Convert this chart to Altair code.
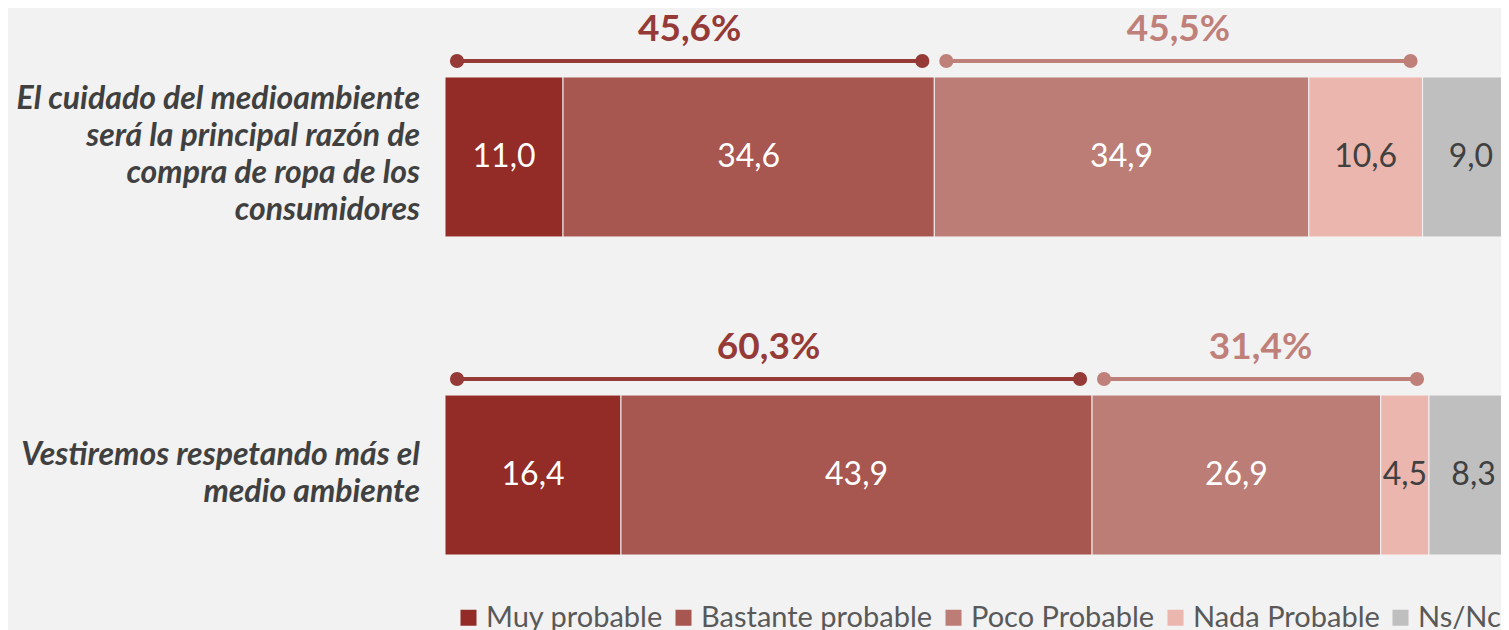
import altair as alt
import pandas as pd

categories = [
    "El cuidado del medioambiente\nserá la principal razón de\ncompra de ropa de los\nconsumidores",
    "Vestiremos respetando más el\nmedio ambiente",
]
cat_keys = ["A", "B"]
series = ["Muy probable", "Bastante probable", "Poco Probable", "Nada Probable", "Ns/Nc"]
values = [
    [11.0, 34.6, 34.9, 10.6, 9.0],
    [16.4, 43.9, 26.9, 4.5, 8.3],
]
colors = ["#932B27", "#A85650", "#BC7D77", "#EBB6AD", "#BFBFBF"]
label_colors = ["#FFFFFF", "#FFFFFF", "#FFFFFF", "#404040", "#404040"]
bracket_colors = ["#953A36", "#C0807A"]

LINE_H = 37

rows = []
for ci, key in enumerate(cat_keys):
    start = 0.0
    for si, s in enumerate(series):
        v = values[ci][si]
        rows.append({
            "cat": key, "serie": s, "order": si, "start": start, "end": start + v,
            "mid": start + v / 2, "label": f"{v:.1f}".replace(".", ","),
            "lcolor": label_colors[si],
        })
        start += v
bars_df = pd.DataFrame(rows)

brows = []
for ci, key in enumerate(cat_keys):
    pos = values[ci][0] + values[ci][1]
    neg = values[ci][2] + values[ci][3]
    brows.append({"cat": key, "start": 0.0, "end": pos, "mid": pos / 2,
                  "txt": f"{pos:.1f}".replace(".", ",") + "%", "col": bracket_colors[0]})
    brows.append({"cat": key, "start": pos, "end": pos + neg, "mid": pos + neg / 2,
                  "txt": f"{neg:.1f}".replace(".", ",") + "%", "col": bracket_colors[1]})
br_df = pd.DataFrame(brows)

xs = alt.Scale(domain=[0, 98.41], nice=False, zero=False)
ys = alt.Scale(domain=cat_keys, paddingInner=0.497, paddingOuter=0.1855)
Y = alt.Y("cat:N", scale=ys, axis=None)

bars = alt.Chart(bars_df).mark_bar(clip=True, stroke="#F2F2F2", strokeWidth=1).encode(
    x=alt.X("start:Q", scale=xs, axis=None),
    x2="end:Q",
    y=Y,
    color=alt.Color("serie:N", scale=alt.Scale(domain=series, range=colors),
                    legend=alt.Legend(title=None, orient="none", direction="horizontal",
                                      legendX=9, legendY=585, columns=5,
                                      symbolType="square", symbolSize=256,
                                      symbolStrokeWidth=0, labelFont="Lato",
                                      labelFontSize=29, labelColor="#595959",
                                      labelLimit=0, columnPadding=6, labelOffset=3)),
    order="order:Q",
)

vlabels = alt.Chart(bars_df).mark_text(font="Lato", fontSize=32, baseline="middle", align="center").encode(
    x=alt.X("mid:Q", scale=xs),
    y=Y,
    text="label:N",
    color=alt.Color("lcolor:N", scale=None),
)

rule = alt.Chart(br_df).mark_rule(strokeWidth=4, xOffset=12, x2Offset=-12, yOffset=-96).encode(
    x=alt.X("start:Q", scale=xs), x2="end:Q", y=Y,
    color=alt.Color("col:N", scale=None),
)
dot1 = alt.Chart(br_df).mark_circle(size=200, opacity=1, xOffset=12, yOffset=-96).encode(
    x=alt.X("start:Q", scale=xs), y=Y, color=alt.Color("col:N", scale=None),
)
dot2 = alt.Chart(br_df).mark_circle(size=200, opacity=1, xOffset=-12, yOffset=-96).encode(
    x=alt.X("end:Q", scale=xs), y=Y, color=alt.Color("col:N", scale=None),
)
ptxt = alt.Chart(br_df).mark_text(font="Lato", fontSize=37, fontWeight="bold",
                                  baseline="middle", align="center", yOffset=-127).encode(
    x=alt.X("mid:Q", scale=xs), y=Y, text="txt:N", color=alt.Color("col:N", scale=None),
)

catlabs = []
for key, name in zip(cat_keys, categories):
    n_lines = name.count("\n") + 1
    catlabs.append(
        alt.Chart(pd.DataFrame({"cat": [key], "name": [name]})).mark_text(
            font="Lato", fontSize=32, fontWeight="bold", fontStyle="italic",
            align="right", baseline="middle", lineBreak="\n", lineHeight=LINE_H,
            color="#404040", yOffset=-(n_lines - 1) / 2 * LINE_H - 2,
        ).encode(x=alt.value(-25), y=Y, text="name:N")
    )

chart = alt.layer(bars, vlabels, rule, dot1, dot2, ptxt, *catlabs).properties(
    width=1056, height=596,
    autosize=alt.AutoSizeParams(type="none"),
    padding={"left": 437, "top": 10, "right": 0, "bottom": 16},
    background="#F2F2F2",
).configure_view(stroke=None)

chart.save("out.html", embed_options={"renderer": "svg", "actions": False})
